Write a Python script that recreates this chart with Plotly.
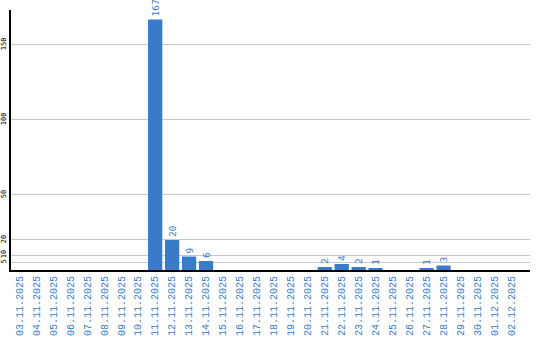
import plotly.graph_objects as go

dates = ["03.11.2025","04.11.2025","05.11.2025","06.11.2025","07.11.2025","08.11.2025",
         "09.11.2025","10.11.2025","11.11.2025","12.11.2025","13.11.2025","14.11.2025",
         "15.11.2025","16.11.2025","17.11.2025","18.11.2025","19.11.2025","20.11.2025",
         "21.11.2025","22.11.2025","23.11.2025","24.11.2025","25.11.2025","26.11.2025",
         "27.11.2025","28.11.2025","29.11.2025","30.11.2025","01.12.2025","02.12.2025"]
values = [0,0,0,0,0,0,0,0,167,20,9,6,0,0,0,0,0,0,2,4,2,1,0,0,1,3,0,0,0,0]
ytick_vals = [5,10,20,50,100,150]

labels = [str(v) if v > 0 else "" for v in values]

blue = "#3a7bc8"
fig = go.Figure(go.Bar(
    x=dates, y=values, marker_color=blue, marker_line_width=0,
    text=labels, textposition="outside", textangle=-90, constraintext="none",
    textfont=dict(family="DejaVu Sans Mono", size=9.5, color=blue),
    cliponaxis=False,
))
fig.update_layout(
    width=540, height=340, margin=dict(l=11, r=10, t=10, b=70, autoexpand=False),
    plot_bgcolor="white", paper_bgcolor="white", showlegend=False, bargap=0.16,
    xaxis=dict(type="category", tickangle=-90, showgrid=False, showline=True,
               linecolor="black", linewidth=2, ticks="", automargin=False,
               range=[-0.5, 30.1],
               tickfont=dict(family="Liberation Mono", size=10, color=blue)),
    yaxis=dict(range=[0, 173.3], tickvals=ytick_vals, tickangle=-90, showgrid=True,
               gridcolor="#c8c8c8", gridwidth=1, showline=True, linecolor="black",
               linewidth=2, ticks="", zeroline=False, automargin=False,
               tickfont=dict(family="DejaVu Sans Mono", size=7, color="black")),
)
fig.write_html("out.html")
